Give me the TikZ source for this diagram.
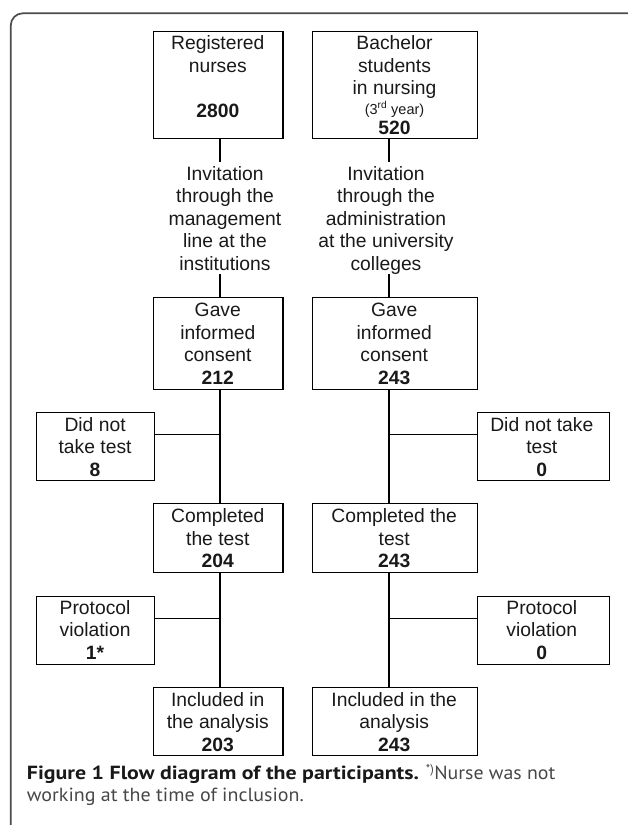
\documentclass[tikz,border=0pt]{standalone}
\usepackage{fontspec}
\usepackage{graphicx}
\newfontfamily\boxfont{Liberation Sans}
\newfontfamily\capfont{PT Sans}
\begin{document}
\begin{tikzpicture}[x=1pt,y=-1pt,
  box/.style={draw=black, line width=1.1pt, inner sep=0pt, anchor=north west},
  txt/.style={font=\boxfont\fontsize{19.3}{22.5}\selectfont, align=center, inner sep=0pt, anchor=north, text=black!90},
  conn/.style={line width=1.1pt, draw=black},
  captxt/.style={anchor=base west, inner sep=0pt, font=\capfont\fontsize{19}{22}\selectfont}]
\useasboundingbox (0,0) rectangle (628,825);
\draw[line width=1.7pt, black!70, rounded corners=12pt] (10.8,840) -- (10.8,13.3) -- (660,13.3);
% columns
\coordinate (c1) at (220,0);
\coordinate (c2) at (389,0);
\coordinate (h1) at (0,434.5);
\coordinate (h2) at (0,618.7);
% top boxes
\node[box, minimum width=129.2pt, minimum height=107.8pt] (rn) at (153.2,30.5) {};
\node[box, minimum width=165.5pt, minimum height=107.8pt] (bs) at (311.5,30.5) {};
\node[txt] (rnT) at (217.8,35.5) {Registered\\nurses\\[22.5pt]\textbf{2800}};
\node[txt] (bsT) at (394.5,35.5) {Bachelor\\students\\in nursing\\[-3.1pt]{\fontsize{14.5}{16}\selectfont(3\textsuperscript{rd} year)}\\[-1.9pt]\textbf{520}};
% invitation texts
\node[txt] (inv1) at (225,166.2) {Invitation\\through the\\management\\line at the\\institutions};
\node[txt] (inv2) at (386,166.2) {Invitation\\through the\\administration\\at the university\\colleges};
% gave consent
\node[box, minimum width=129.2pt, minimum height=91.4pt] (gl) at (153.2,297.3) {};
\node[box, minimum width=165.5pt, minimum height=91.4pt] (gr) at (311.5,297.3) {};
\node[txt] (glT) at (217.8,302.9) {Gave\\informed\\consent\\\textbf{212}};
\node[txt] (grT) at (394.2,302.9) {Gave\\informed\\consent\\\textbf{243}};
% did not take test
\node[box, minimum width=117.8pt, minimum height=68.8pt] (dl) at (36.2,411.5) {};
\node[box, minimum width=131.5pt, minimum height=68.8pt] (dr) at (477.3,411.5) {};
\node[txt] (dlT) at (95.1,417.2) {Did not\\take test\\\textbf{8}};
\node[txt] (drT) at (541.8,417.2) {Did not take\\test\\\textbf{0}};
% completed
\node[box, minimum width=129.2pt, minimum height=69pt] (cl) at (153.2,503.3) {};
\node[box, minimum width=165.5pt, minimum height=69pt] (cr) at (311.5,503.3) {};
\node[txt] (clT) at (217.8,508.5) {Completed\\the test\\\textbf{204}};
\node[txt] (crT) at (394.2,508.5) {Completed the\\test\\\textbf{243}};
% protocol violation
\node[box, minimum width=117.8pt, minimum height=68.6pt] (pl) at (36.2,595.7) {};
\node[box, minimum width=131.5pt, minimum height=68.6pt] (pr) at (477.3,595.7) {};
\node[txt] (plT) at (95.1,600.2) {Protocol\\violation\\\textbf{1*}};
\node[txt] (prT) at (541.8,600.2) {Protocol\\violation\\\textbf{0}};
% included
\node[box, minimum width=129.2pt, minimum height=68pt] (il) at (153.2,687.3) {};
\node[box, minimum width=165.5pt, minimum height=68pt] (ir) at (311.5,687.3) {};
\node[txt] (ilT) at (217.8,691.9) {Included in\\the analysis\\\textbf{203}};
\node[txt] (irT) at (394.2,691.9) {Included in the\\analysis\\\textbf{243}};
% connectors
\draw[conn] (rn.south -| c1) -- ++(0,23);
\draw[conn] (gl.north -| c1) -- ++(0,-23);
\draw[conn] (bs.south -| c2) -- ++(0,23);
\draw[conn] (gr.north -| c2) -- ++(0,-23);
\draw[conn] (gl.south -| c1) -- (cl.north -| c1);
\draw[conn] (gr.south -| c2) -- (cr.north -| c2);
\draw[conn] (dl.east |- h1) -- (h1 -| c1);
\draw[conn] (dr.west |- h1) -- (h1 -| c2);
\draw[conn] (cl.south -| c1) -- (il.north -| c1);
\draw[conn] (cr.south -| c2) -- (ir.north -| c2);
\draw[conn] (pl.east |- h2) -- (h2 -| c1);
\draw[conn] (pr.west |- h2) -- (h2 -| c2);
% caption
\node[captxt] (cap1) at (26.7,779.5)
 {\textcolor{black!90}{\resizebox{392pt}{\height}{\bfseries Figure 1 Flow diagram of the participants.}}\hspace{7pt}\textcolor{black!72}{\raisebox{6pt}{\fontsize{12.5}{13}\selectfont *)}\hspace{0.5pt}\resizebox{121pt}{\height}{Nurse was not}}};
\node[captxt, text=black!72] (cap2) at (26.7,801)
 {\resizebox{277pt}{\height}{working at the time of inclusion.}};
\end{tikzpicture}
\end{document}
